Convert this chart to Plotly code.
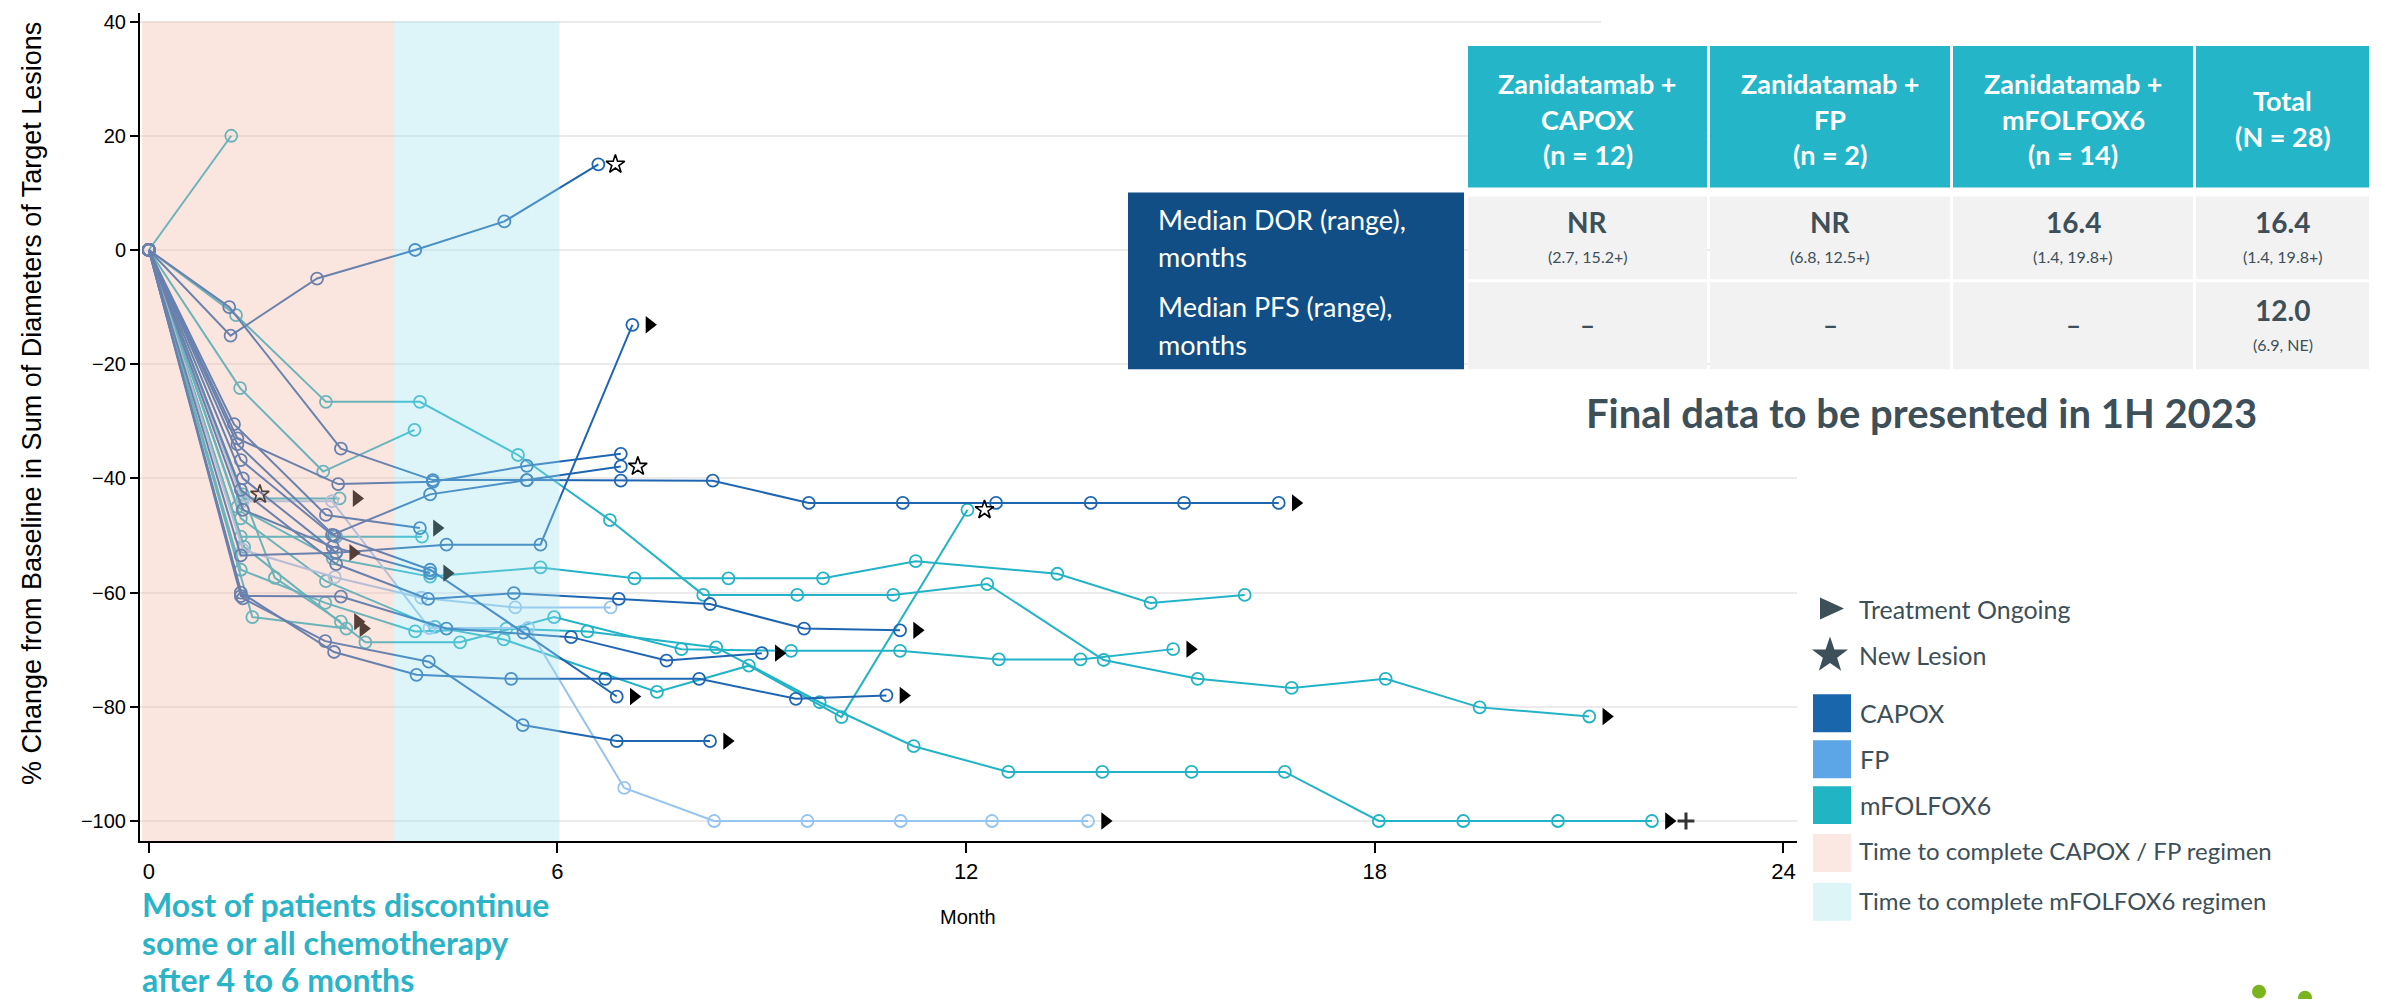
import plotly.graph_objects as go
import math

# ---------------- data (months, % change from baseline) ----------------
capox_1_m = [0, 1.2, 2.47, 3.91, 5.22, 6.6];            capox_1_v = [0, -15, -5, 0, 5, 15]
capox_2_m = [0, 1.18, 2.82, 4.17, 5.55, 6.93, 8.28, 9.69, 11.07, 12.44, 13.83, 15.2, 16.59]
capox_2_v = [0, -10, -34.8, -40.3, -40.3, -40.4, -40.4, -44.3, -44.3, -44.3, -44.3, -44.3, -44.3]
capox_3_m = [0, 1.3, 2.78, 4.17, 5.55, 6.93];           capox_3_v = [0, -33, -41, -40.6, -37.8, -35.7]
capox_4_m = [0, 1.35, 2.69, 4.13, 5.55, 6.93];          capox_4_v = [0, -36.8, -49.9, -42.8, -40.3, -37.9]
capox_5_m = [0, 1.38, 2.75, 4.37, 5.75, 7.1];           capox_5_v = [0, -40, -53, -51.6, -51.6, -13.1]
capox_6_m = [0, 1.25, 2.6, 3.98];                       capox_6_v = [0, -30.5, -46.4, -48.7]
capox_7_m = [0, 1.35, 2.75, 4.1, 5.36, 6.9, 8.24, 9.62, 11.03]
capox_7_v = [0, -42, -55, -61.1, -60.1, -61.1, -62, -66.3, -66.6]
capox_8_m = [0, 1.35, 2.82, 4.37, 6.2, 7.6, 9.0];       capox_8_v = [0, -60.6, -60.7, -66.3, -67.8, -71.9, -70.6]
capox_9_m = [0, 1.35, 2.72, 3.93, 5.32, 6.7, 8.08, 9.5, 10.83]
capox_9_v = [0, -60, -70.4, -74.4, -75.1, -75.1, -75.1, -78.6, -78]
capox_10_m = [0, 1.38, 2.59, 4.11, 5.49, 6.87, 8.24];   capox_10_v = [0, -61, -68.5, -72.1, -83.2, -86, -86]
capox_11_m = [0, 1.3, 2.72, 4.13, 5.5, 6.87];           capox_11_v = [0, -34, -50, -56, -67, -78.2]
capox_12_m = [0, 1.35, 2.75];                           capox_12_v = [0, -53.5, -53]
capox_13_m = [0, 1.38, 2.7, 4.13];                      capox_13_v = [0, -45.5, -52, -56.6]

fp_1_m = [0, 1.38, 2.73, 4.0, 5.38, 6.78];              fp_1_v = [0, -52.5, -57.3, -60.9, -62.6, -62.6]
fp_2_m = [0, 1.38, 2.69, 4.12, 5.57, 6.98, 8.3, 9.67, 11.04, 12.38, 13.79]
fp_2_v = [0, -44, -44, -66.2, -66.2, -94.2, -100, -100, -100, -100, -100]

mfol_1_m = [0, 1.21];                                   mfol_1_v = [0, 20]
mfol_2_m = [0, 1.28, 2.6, 3.98, 5.42, 6.77, 8.14, 9.52, 10.93, 12.31, 14.02, 15.4, 16.78, 18.16, 19.54, 21.15]
mfol_2_v = [0, -11.4, -26.6, -26.6, -35.9, -47.3, -60.4, -60.4, -60.4, -58.5, -71.8, -75.1, -76.7, -75.1, -80.1, -81.7]
mfol_3_m = [0, 1.3, 2.7, 4.13, 5.75, 7.13, 8.51, 9.9, 11.26, 13.34, 14.71, 16.09]
mfol_3_v = [0, -45, -54, -57.2, -55.6, -57.5, -57.5, -57.5, -54.5, -56.7, -61.8, -60.4]
mfol_4_m = [0, 1.38, 2.8];                              mfol_4_v = [0, -43.5, -43.5]
mfol_5_m = [0, 1.35, 2.59, 3.91, 5.25, 6.44, 8.33, 9.85, 11.23, 12.62, 14.0, 15.31, 16.68, 18.06, 19.3, 20.69, 22.07]
mfol_5_v = [0, -56, -61.8, -66.8, -66.3, -66.8, -69.6, -79.2, -86.9, -91.4, -91.4, -91.4, -91.4, -100, -100, -100, -100]
mfol_6_m = [0, 1.35, 2.6, 4.2, 5.21, 7.46, 8.81, 10.17, 12.02]
mfol_6_v = [0, -47, -58, -66, -68.2, -77.4, -72.8, -81.8, -45.5]
mfol_7_m = [0, 1.4, 3.18, 4.57, 5.95, 7.82, 9.43, 11.03, 12.48, 13.68, 15.04]
mfol_7_v = [0, -52, -68.7, -68.7, -64.3, -69.9, -70.2, -70.2, -71.7, -71.7, -69.9]
mfol_8_m = [0, 1.85, 2.82];                             mfol_8_v = [0, -57.4, -65.1]
mfol_9_m = [0, 1.52, 2.9];                              mfol_9_v = [0, -64.3, -66.3]
mfol_10_m = [0, 1.35, 2.75, 4.01];                      mfol_10_v = [0, -50.2, -50.2, -50.2]
mfol_11_m = [0, 1.34, 2.56, 3.9];                       mfol_11_v = [0, -24.2, -38.8, -31.5]
mfol_12_m = [0, 1.38];                                  mfol_12_v = [0, -42.8]

# (regimen, months, values, end marker)
patients = [
    ("mFOLFOX6", mfol_1_m, mfol_1_v, ""), ("mFOLFOX6", mfol_2_m, mfol_2_v, "arrow"),
    ("mFOLFOX6", mfol_3_m, mfol_3_v, ""), ("mFOLFOX6", mfol_4_m, mfol_4_v, "arrow"),
    ("mFOLFOX6", mfol_5_m, mfol_5_v, "arrow+"), ("mFOLFOX6", mfol_6_m, mfol_6_v, "star"),
    ("mFOLFOX6", mfol_7_m, mfol_7_v, "arrow"), ("mFOLFOX6", mfol_8_m, mfol_8_v, "arrow"),
    ("mFOLFOX6", mfol_9_m, mfol_9_v, "arrow"), ("mFOLFOX6", mfol_10_m, mfol_10_v, ""),
    ("mFOLFOX6", mfol_11_m, mfol_11_v, ""), ("mFOLFOX6", mfol_12_m, mfol_12_v, "star"),
    ("FP", fp_1_m, fp_1_v, ""), ("FP", fp_2_m, fp_2_v, "arrow"),
    ("CAPOX", capox_1_m, capox_1_v, "star"), ("CAPOX", capox_2_m, capox_2_v, "arrow"),
    ("CAPOX", capox_3_m, capox_3_v, ""), ("CAPOX", capox_4_m, capox_4_v, "star"),
    ("CAPOX", capox_5_m, capox_5_v, "arrow"), ("CAPOX", capox_6_m, capox_6_v, "arrow"),
    ("CAPOX", capox_7_m, capox_7_v, "arrow"), ("CAPOX", capox_8_m, capox_8_v, "arrow"),
    ("CAPOX", capox_9_m, capox_9_v, "arrow"), ("CAPOX", capox_10_m, capox_10_v, "arrow"),
    ("CAPOX", capox_11_m, capox_11_v, "arrow"), ("CAPOX", capox_12_m, capox_12_v, "arrow"),
    ("CAPOX", capox_13_m, capox_13_v, "arrow"),
]

capox_fp_regimen_months = 3.6
mfolfox_regimen_months = 6.03

x_ticks = [0, 6, 12, 18, 24]
y_ticks = [40, 20, 0, -20, -40, -60, -80, -100]

table_headers = [["Zanidatamab +", "CAPOX", "(n = 12)"],
                 ["Zanidatamab +", "FP", "(n = 2)"],
                 ["Zanidatamab +", "mFOLFOX6", "(n = 14)"],
                 ["Total", "(N = 28)"]]
row_labels = [["Median DOR (range),", "months"], ["Median PFS (range),", "months"]]
dor_main = ["NR", "NR", "16.4", "16.4"]
dor_range = ["(2.7, 15.2+)", "(6.8, 12.5+)", "(1.4, 19.8+)", "(1.4, 19.8+)"]
pfs_main = ["–", "–", "–", "12.0"]
pfs_range = ["", "", "", "(6.9, NE)"]

legend_symbols = ["Treatment Ongoing", "New Lesion"]
legend_regimens = ["CAPOX", "FP", "mFOLFOX6"]
legend_periods = ["Time to complete CAPOX / FP regimen", "Time to complete mFOLFOX6 regimen"]
note_lines = ["Most of patients discontinue", "some or all chemotherapy", "after 4 to 6 months"]
final_note = "Final data to be presented in 1H 2023"

# ---------------- styling ----------------
colors = {"CAPOX": "#1f66b2", "FP": "#96c4f0", "mFOLFOX6": "#22b3c7"}
legend_colors = {"CAPOX": "#1a66ad", "FP": "#5ca5e6", "mFOLFOX6": "#21b4c4"}
SLATE = "#3d4f58"
TEAL_TXT = "#2bb4c8"
W, H = 2382, 999
L, R, T, B = 140, 1797, 11, 841


def px(x):
    return (x - L) / (R - L)


def py(y):
    return (B - y) / (B - T)


fig = go.Figure()
arrow_x, arrow_y, star_x, star_y, plus_x, plus_y = [], [], [], [], [], []
for reg, m, v, end in patients:
    c = colors[reg]
    fig.add_trace(go.Scatter(x=m, y=v, mode="lines+markers",
                             line=dict(color=c, width=2),
                             marker=dict(symbol="circle-open", size=12, color=c,
                                         line=dict(width=1.8, color=c)),
                             hoverinfo="skip", showlegend=False))
    if end.startswith("arrow"):
        arrow_x.append(m[-1] + 0.25); arrow_y.append(v[-1])
    if end == "arrow+":
        plus_x.append(m[-1] + 0.5); plus_y.append(v[-1])
    if end == "star":
        star_x.append(m[-1] + 0.25); star_y.append(v[-1])

fig.add_trace(go.Scatter(x=arrow_x, y=arrow_y, mode="markers",
                         marker=dict(symbol="triangle-right", size=15, color="black"),
                         hoverinfo="skip", showlegend=False))
fig.add_trace(go.Scatter(x=star_x, y=star_y, mode="markers",
                         marker=dict(symbol="star-open", size=14, color="black",
                                     line=dict(width=1.6, color="black")),
                         hoverinfo="skip", showlegend=False))
fig.add_trace(go.Scatter(x=plus_x, y=plus_y, mode="markers",
                         marker=dict(symbol="cross-thin-open", size=12, color="#333",
                                     line=dict(width=3, color="#333")),
                         hoverinfo="skip", showlegend=False))

shapes = []
# dashed zero line
shapes.append(dict(type="line", xref="paper", x0=0, x1=1, yref="y", y0=0, y1=0,
                   line=dict(color="#7a7a7a", width=2, dash="8px,6px"), layer="below"))
# translucent regimen overlays (drawn above the data)
shapes.append(dict(type="rect", xref="x", x0=-0.1, x1=capox_fp_regimen_months, yref="y",
                   y0=-103.5, y1=40, fillcolor="rgb(244,181,164)", opacity=0.35,
                   line=dict(width=0), layer="above"))
shapes.append(dict(type="rect", xref="x", x0=capox_fp_regimen_months, x1=mfolfox_regimen_months,
                   yref="y", y0=-103.5, y1=40, fillcolor="rgb(158,224,235)", opacity=0.35,
                   line=dict(width=0), layer="above"))


def prect(x0, y0, x1, y1, color):
    shapes.append(dict(type="rect", xref="paper", yref="paper", x0=px(x0), x1=px(x1),
                       y0=py(y1), y1=py(y0), fillcolor=color, line=dict(width=0), layer="above"))


# white patch at top right
prect(1601, 0, W, 43, "white")
# table
cols = [(1468, 1707), (1710, 1950), (1953, 2193), (2196, 2369)]
for x0, x1 in cols:
    prect(x0, 44, x1, 186, "#24b5c8")
    prect(x0, 195, x1, 278, "#f2f2f2")
    prect(x0, 281, x1, 368, "#f2f2f2")
prect(1128, 191, 1464, 368, "#114e85")

# legend symbols
shapes.append(dict(type="path", xref="paper", yref="paper",
                   path="M {} {} L {} {} L {} {} Z".format(px(1820), py(597), px(1844), py(608), px(1820), py(619)),
                   fillcolor=SLATE, line=dict(width=0), layer="above"))
pts = []
cx, cy = 1830, 655
for k in range(10):
    ang = -math.pi / 2 + k * math.pi / 5
    rr = 19 if k % 2 == 0 else 7.5
    pts.append((cx + rr * math.cos(ang), cy + rr * math.sin(ang)))
spath = "M " + " L ".join("{} {}".format(px(a), py(b)) for a, b in pts) + " Z"
shapes.append(dict(type="path", xref="paper", yref="paper", path=spath,
                   fillcolor=SLATE, line=dict(width=0), layer="above"))
sq_y = [(694, 732), (740, 778), (786, 824), (834, 872), (883, 921)]
sq_cols = [legend_colors["CAPOX"], legend_colors["FP"], legend_colors["mFOLFOX6"], "#fce8e2", "#def5f8"]
for (y0, y1), c in zip(sq_y, sq_cols):
    prect(1813, y0, 1851, y1, c)
# little green dots (logo fragment)
for gx, gy in [(2259, 992), (2305, 998)]:
    shapes.append(dict(type="circle", xref="paper", yref="paper", x0=px(gx - 7), x1=px(gx + 7),
                       y0=py(gy + 7), y1=py(gy - 7), fillcolor="#7ab51d", line=dict(width=0), layer="above"))

ann = []


def text(x, y, s, size, color, bold=False, anchor="center", family="Lato"):
    ann.append(dict(xref="paper", yref="paper", x=px(x), y=py(y), text=("<b>%s</b>" % s) if bold else s,
                    showarrow=False, xanchor=anchor, yanchor="middle",
                    font=dict(family=family, size=size, color=color)))


# header text
for (x0, x1), lines in zip(cols, table_headers):
    ys = [82, 118, 153] if len(lines) == 3 else [99, 135]
    for yy, s in zip(ys, lines):
        text((x0 + x1) / 2, yy, s, 27, "white", bold=True)
# row labels
for (l1, l2), (ya, yb) in zip(row_labels, [(218, 255), (305, 343)]):
    text(1156, ya, l1, 27, "white", anchor="left")
    text(1156, yb, l2, 27, "white", anchor="left")
for (x0, x1), a, b in zip(cols, dor_main, dor_range):
    text((x0 + x1) / 2, 221, a, 28, SLATE, bold=True)
    text((x0 + x1) / 2, 255, b, 16, SLATE)
for (x0, x1), a, b in zip(cols, pfs_main, pfs_range):
    if b:
        text((x0 + x1) / 2, 309, a, 28, SLATE, bold=True)
        text((x0 + x1) / 2, 343, b, 16, SLATE)
    else:
        text((x0 + x1) / 2, 324, a, 26, SLATE, bold=True)
text(1921, 412, final_note, 40, SLATE, bold=True)
# legend texts
for yy, s in zip([608, 655], legend_symbols):
    text(1857, yy, s, 25, SLATE, anchor="left")
for yy, s in zip([713, 759, 805], legend_regimens):
    text(1858, yy, s, 25, SLATE, anchor="left")
for yy, s in zip([851, 901], legend_periods):
    text(1857, yy, s, 24, SLATE, anchor="left")
# note bottom-left
for yy, s in zip([905, 943, 980], note_lines):
    text(140, yy, s, 32, TEAL_TXT, bold=True, anchor="left")
# axis titles
text(968, 917, "Month", 20, "black", family="Liberation Sans, Arial")
ann.append(dict(xref="paper", yref="paper", x=px(32), y=py(403),
                text="% Change from Baseline in Sum of Diameters of Target Lesions",
                textangle=-90, showarrow=False, xanchor="center", yanchor="middle",
                font=dict(family="Liberation Sans, Arial", size=27, color="black")))

fig.update_layout(
    width=W, height=H, margin=dict(l=L, r=W - R, t=T, b=H - B),
    paper_bgcolor="white", plot_bgcolor="white", showlegend=False,
    shapes=shapes, annotations=ann,
    xaxis=dict(range=[-0.13, 24.2], tickvals=x_ticks, showgrid=False, zeroline=False,
               showline=True, linecolor="black", linewidth=2, ticks="outside", ticklen=10,
               tickwidth=1.5, tickcolor="black",
               tickfont=dict(family="Liberation Sans, Arial", size=22, color="black")),
    yaxis=dict(range=[-103.5, 41.5], tickvals=y_ticks, showgrid=True, gridcolor="#ebebeb",
               gridwidth=2, zeroline=False, showline=True, linecolor="black", linewidth=2,
               ticks="outside", ticklen=8, tickwidth=1.5, tickcolor="black",
               tickfont=dict(family="Liberation Sans, Arial", size=20, color="black")),
)

fig.write_html("out.html")
